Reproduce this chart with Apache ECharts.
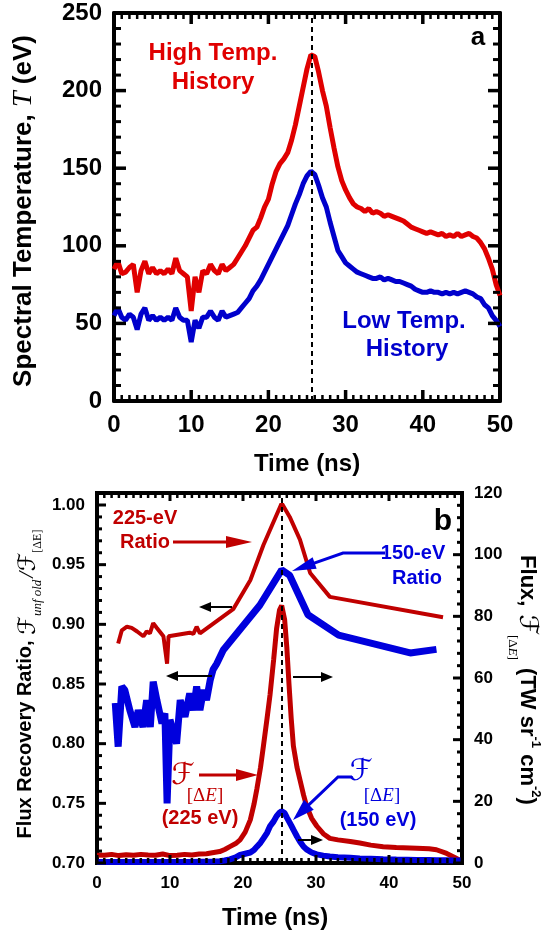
<!DOCTYPE html>
<html>
<head>
<meta charset="utf-8">
<script src="https://cdn.jsdelivr.net/npm/echarts@6/dist/echarts.min.js"></script>
<style>
html,body{margin:0;padding:0;background:#fff}
#chart{width:543px;height:937px}
</style>
</head>
<body>
<div id="chart"></div>
<script>
// ---- panel a : spectral temperature histories ----
var timeA = [0,0.5,1,1.5,2,2.5,3,3.5,4,4.5,
	5,5.5,6,6.5,7,7.5,8,8.5,9,9.5,
	10,10.5,11,11.5,12,12.5,13,13.5,14,14.5,
	15,15.5,16,16.5,17,17.5,18,18.5,19,19.5,
	20,20.5,21,21.5,22,22.5,23,23.5,24,24.5,
	25,25.5,26,26.5,27,27.5,28,28.5,29,29.5,
	30,30.5,31,31.5,32,32.5,33,33.5,34,34.5,
	35,35.5,36,36.5,37,37.5,38,38.5,39,39.5,
	40,40.5,41,41.5,42,42.5,43,43.5,44,44.5,
	45,45.5,46,46.5,47,47.5,48,48.5,49,49.5,
	50];
var highTemp = [85,90,82,83,86,88,70,84,90,82,
	86,82,84,82,85,82,92,84,82,80,
	58,80,70,84,82,88,84,82,88,84,
	86,88,92,96,100,105,110,112,118,125,
	130,140,148,153,156,160,168,178,190,202,
	214,223,222,212,200,190,176,163,151,142,
	136,131,127,125,124,122,124,121,122,121,
	119,120,119,118,117,116,114,112,111,110,
	109,108,109,108,107,108,106,107,106,108,
	106,107,108,106,105,102,98,92,85,75,
	68];
var lowTemp = [55,60,54,52,56,54,46,56,60,52,
	55,52,54,52,54,52,60,54,52,52,
	38,52,47,54,54,58,54,52,58,54,
	55,56,57,60,63,66,71,74,78,83,
	88,93,98,103,108,113,120,127,133,140,
	145,148,146,139,131,125,115,106,97,93,
	89,87,85,83,82,81,80,79,79,80,
	78,79,78,77,77,76,75,74,72,71,
	70,70,71,70,70,69,70,69,70,69,
	70,71,70,69,67,66,62,60,55,52,
	48];
var peakTimeA = 25.6;
var timeRange = [0, 50];
var tempRange = [0, 250];

// ---- panel b : flux recovery ratio and flux ----
var ratio225Time = [2.9,3.4,4.1,4.75,5.5,6.35,6.8,7.25,7.7,8.2,9.1,9.6,9.8,12.7,13.2,13.65,14.1,18.7,21.0,22.8,25.3,26.4,27.8,29.2,31.9,47.4];
var ratio225 = [0.884,0.895,0.898,0.897,0.894,0.890,0.894,0.8925,0.901,0.897,0.890,0.867,0.890,0.893,0.892,0.898,0.8925,0.913,0.937,0.9665,1.0015,0.990,0.971,0.943,0.923,0.906];
var ratio150Time = [2.5,2.9,3.4,3.8,4.5,5.2,5.65,6.3,6.8,7.3,7.7,8.2,8.9,9.3,9.6,10.0,10.9,11.4,12.05,12.7,13.2,13.65,14.1,14.6,15.0,15.5,15.9,16.4,17.3,22.3,25.3,26.4,28.9,33.1,42.9,46.5];
var ratio150 = [0.834,0.7975,0.848,0.845,0.828,0.814,0.828,0.814,0.8365,0.814,0.852,0.8365,0.817,0.8255,0.750,0.820,0.800,0.8365,0.8225,0.842,0.828,0.848,0.828,0.845,0.8365,0.853,0.862,0.867,0.8785,0.916,0.9456,0.941,0.908,0.891,0.876,0.879];
var fluxTime = [0,1,2,3,4,5,6,7,8,9,10,11,12,13,14,15,16,
	16.8,17.5,18.2,19,19.6,20.3,21,21.5,21.9,22.4,
	22.8,23.3,23.7,24.2,24.6,25,25.3,25.7,26,26.3,
	26.6,26.9,27.4,27.8,28.3,28.7,29.4,30.1,31,31.9,
	33,34.7,36,37.5,39.2,41,43.8,45.5,46.5,47.9,
	49,50];
var flux225 = [2.6,2.5,2.8,2.4,2.7,2.5,2.8,2.6,2.5,2.9,2.4,2.5,2.8,2.6,2.9,3.0,3.4,
	3.7,4.4,5.3,6.3,7.5,10,14,19,24,31,
	38,47,54.5,66,76,82,83.5,79,70,58,
	47,38,31,27,22,18.5,14.5,12,9.5,8,
	7.5,7,6.5,5.8,5.3,5.0,4.8,4.6,4.3,3.1,
	1.8,0.5];
var flux150 = [0.3,0.3,0.3,0.3,0.3,0.3,0.3,0.3,0.3,0.3,0.3,0.3,0.3,0.3,0.4,0.4,0.5,
	0.6,0.8,1.2,1.8,2.6,3.0,3.4,4.2,5.3,6.6,
	8,9.8,11.9,13.5,15.2,16.3,16.8,16.2,14.8,13.5,
	12.2,10.8,8.6,7,5.3,4.4,3.4,2.8,2.4,2.1,
	1.9,1.7,1.5,1.4,1.2,1.1,1.0,1.0,0.9,0.9,
	0.8,0.8];
var peakTimeB = 25.3;
var ratioRange = [0.70, 1.00];
var fluxRange = [0, 120];

function renderFigure(){
	var SANS = '"Liberation Sans", Arial, sans-serif';
	var SERIF = '"Liberation Serif", "DejaVu Serif", serif';
	var SCRIPT = '"DejaVu Sans", "DejaVu Serif", serif';
	var RED_A = '#e00000', BLUE_A = '#0000cc';
	var RED_B = '#c00000', BLUE_B = '#0000dd';

	// grid boxes
	var gA = {left:114, top:13, width:386, height:388};
	var gRatio = {left:97, top:505, width:365, height:358};
	var gFlux = {left:97, top:493, width:365, height:370};

	function zip(xs, ys){
		return xs.map(function(x,i){ return [x, ys[i]]; });
	}

	//文字测量
	var measureCtx = document.createElement('canvas').getContext('2d');
	function textW(t, font){ measureCtx.font = font; return measureCtx.measureText(t).width; }

	function label(x, y, s, size, color, font){
		return {
			type:'text', x:x, y:y, z:100,
			style:{text:s, font:font || ('bold '+size+'px '+SANS), fill:color,
				align:'center', verticalAlign:'middle', textAlign:'center', textVerticalAlign:'middle'}
		};
	}

	// pieces laid one after another, centred on (cx,cy), optional rotation
	function pieceRow(cx, cy, rot, pieces){
		var fonts = pieces.map(function(p){
			return (p.i?'italic ':'') + (p.b?'bold ':'') + p.s + 'px ' + (p.f || SANS);
		});
		var widths = pieces.map(function(p,k){ return textW(p.t, fonts[k]) + (p.gap||0); });
		var total = widths.reduce(function(a,b){ return a+b; }, 0);
		var x = -total/2;
		var children = pieces.map(function(p,k){
			var el = {
				type:'text', x: x + (p.gap||0), y: p.dy||0,
				style:{text:p.t, font:fonts[k], fill:p.c || '#000',
					align:'left', verticalAlign:'middle', textAlign:'left', textVerticalAlign:'middle'}
			};
			x += widths[k];
			return el;
		});
		return {type:'group', x:cx, y:cy, rotation:rot||0, z:100, children:children};
	}

	function arrowShape(pts, color, lw, hl, hw){
		var n = pts.length, tip = pts[n-1], prev = pts[n-2];
		var dx = tip[0]-prev[0], dy = tip[1]-prev[1];
		var len = Math.sqrt(dx*dx+dy*dy), ux = dx/len, uy = dy/len;
		var bx = tip[0]-ux*hl, by = tip[1]-uy*hl;
		var shaft = pts.slice(0, n-1).concat([[bx+ux*2, by+uy*2]]);
		return [
			{type:'polyline', z:100, shape:{points:shaft}, style:{stroke:color, lineWidth:lw, fill:null}},
			{type:'polygon', z:100, shape:{points:[tip,[bx-uy*hw, by+ux*hw],[bx+uy*hw, by-ux*hw]]}, style:{fill:color}}
		];
	}

	// inward ticks on the frame as small filled bars, spaced along each axis range
	function frameTicks(box, range, dim, side, minor, per, L, l, w, mw){
		var out = [];
		var steps = Math.round((range[1]-range[0])/minor);
		for (var k = 0; k <= steps; k++){
			var f = k/steps, major = (k % per) === 0;
			var len = major ? L : l, hw = (major ? w : mw)/2, pts;
			if (dim === 'x'){
				var px = box.left + f*box.width;
				var ey = side === 'bottom' ? box.top + box.height : box.top;
				var ty = side === 'bottom' ? ey - len : ey + len;
				pts = [[px-hw, ey], [px+hw, ey], [px+hw, ty], [px-hw, ty]];
			} else {
				var py = box.top + box.height - f*box.height;
				var ex = side === 'left' ? box.left : box.left + box.width;
				var tx = side === 'left' ? ex + len : ex - len;
				pts = [[ex, py-hw], [ex, py+hw], [tx, py+hw], [tx, py-hw]];
			}
			out.push({type:'polygon', z:90, shape:{points:pts}, style:{fill:'#000'}});
		}
		return out;
	}

	function valueAxis(base, labelSize, showLabel, fmt){
		var lab = {show:showLabel, fontFamily:SANS, fontWeight:'bold', fontSize:labelSize, color:'#000', margin:12};
		if (fmt) lab.formatter = fmt;
		return Object.assign({
			type:'value',
			axisLine:{show:true, onZero:false, lineStyle:{color:'#000', width:4}},
			splitLine:{show:false},
			axisTick:{show:false},
			axisLabel:lab
		}, base);
	}

	var graphics = [];
	graphics = graphics
		.concat(frameTicks(gA, timeRange, 'x', 'bottom', 1, 10, 11, 6, 3.5, 2.5))
		.concat(frameTicks(gA, timeRange, 'x', 'top', 1, 10, 11, 6, 3.5, 2.5))
		.concat(frameTicks(gA, tempRange, 'y', 'left', 10, 5, 12, 7, 3.5, 3))
		.concat(frameTicks(gA, tempRange, 'y', 'right', 10, 5, 12, 7, 3.5, 3))
		.concat(frameTicks(gFlux, timeRange, 'x', 'bottom', 1, 10, 8, 5, 3, 2.5))
		.concat(frameTicks(gFlux, timeRange, 'x', 'top', 1, 10, 8, 5, 3, 2.5))
		.concat(frameTicks(gRatio, ratioRange, 'y', 'left', 0.01, 5, 9, 5, 3, 3))
		.concat(frameTicks(gFlux, fluxRange, 'y', 'right', 4, 5, 9, 5, 3, 3));

	// panel a
	graphics.push(label(213, 53, 'High Temp.', 24, RED_A));
	graphics.push(label(213, 82, 'History', 24, RED_A));
	graphics.push(label(404, 321, 'Low Temp.', 24, BLUE_A));
	graphics.push(label(407, 349, 'History', 24, BLUE_A));
	graphics.push(label(478, 38, 'a', 26, '#000'));
	graphics.push(label(307, 464, 'Time (ns)', 24, '#000'));
	graphics.push(pieceRow(24, 211, Math.PI/2, [
		{t:'Spectral Temperature, ', b:1, s:26},
		{t:'T', i:1, s:28, f:SERIF},
		{t:' (eV)', b:1, s:26}
	]));
	// panel b
	graphics.push(label(145, 518, '225-eV', 20, RED_B));
	graphics.push(label(145, 542, 'Ratio', 20, RED_B));
	graphics = graphics.concat(arrowShape([[173,542],[252,542]], RED_B, 3, 26, 6));
	graphics.push(label(413, 553, '150-eV', 20, BLUE_B));
	graphics.push(label(417, 578, 'Ratio', 20, BLUE_B));
	graphics = graphics.concat(arrowShape([[385,553],[343,553],[292,571]], BLUE_B, 3, 24, 6));
	graphics = graphics.concat(arrowShape([[232,607],[199,607]], '#000', 2, 12, 5));
	graphics = graphics.concat(arrowShape([[212,676],[166,676]], '#000', 2, 12, 5));
	graphics = graphics.concat(arrowShape([[293,677],[333,677]], '#000', 2, 12, 5));
	graphics = graphics.concat(arrowShape([[298,840],[323,840]], '#000', 2, 12, 5));
	graphics.push(label(443, 522, 'b', 30, '#000'));

	graphics.push(label(183, 776, 'ℱ', 30, RED_B, 'italic 30px '+SCRIPT));
	graphics.push(pieceRow(205, 796, 0, [
		{t:'[Δ', s:19, f:SERIF, c:RED_B},
		{t:'E', i:1, s:19, f:SERIF, c:RED_B},
		{t:']', s:19, f:SERIF, c:RED_B}
	]));
	graphics.push(label(200, 818, '(225 eV)', 20, RED_B));
	graphics = graphics.concat(arrowShape([[199,775],[258,775]], RED_B, 3, 22, 6));

	graphics.push(label(361, 772, 'ℱ', 30, BLUE_B, 'italic 30px '+SCRIPT));
	graphics.push(pieceRow(382, 796, 0, [
		{t:'[Δ', s:19, f:SERIF, c:BLUE_B},
		{t:'E', i:1, s:19, f:SERIF, c:BLUE_B},
		{t:']', s:19, f:SERIF, c:BLUE_B}
	]));
	graphics.push(label(378, 820, '(150 eV)', 20, BLUE_B));
	graphics = graphics.concat(arrowShape([[352,777],[338,777],[293,820]], BLUE_B, 3, 22, 7));

	graphics.push(label(275, 918, 'Time (ns)', 24, '#000'));
	graphics.push(pieceRow(25, 684, Math.PI/2, [
		{t:'Flux Recovery Ratio, ', b:1, s:20},
		{t:'ℱ', i:1, s:24, f:SCRIPT, dy:4},
		{t:'unf old', i:1, s:13, f:SERIF, dy:13},
		{t:'/', i:1, s:22, f:SERIF, dy:2, gap:2},
		{t:'ℱ', i:1, s:24, f:SCRIPT, dy:4},
		{t:'[ΔE]', s:12, f:SERIF, dy:13}
	]));
	graphics.push(pieceRow(527, 680, -Math.PI/2, [
		{t:'Flux, ', b:1, s:22},
		{t:'ℱ', i:1, s:26, f:SCRIPT, dy:0, gap:2},
		{t:'[Δ', s:13, f:SERIF, dy:15},
		{t:'E', i:1, s:13, f:SERIF, dy:15},
		{t:']', s:13, f:SERIF, dy:15},
		{t:' (TW sr', b:1, s:22, gap:2},
		{t:'-1', b:1, s:13, dy:-9},
		{t:' cm', b:1, s:22},
		{t:'-2', b:1, s:13, dy:-9},
		{t:')', b:1, s:22}
	]));

	function fmt2(v){ return v.toFixed(2); }
	function fmtInt(v){ return String(Math.round(v)); }

	var dashLine = {type:[5,4], color:'#000', width:2};

	var option = {
		animation:false,
		backgroundColor:'#fff',
		grid:[
			Object.assign({show:false}, gA),
			Object.assign({show:false}, gRatio),
			Object.assign({show:true, borderColor:'#000', borderWidth:4, backgroundColor:'transparent'}, gFlux)
		],
		xAxis:[
			valueAxis({gridIndex:0, position:'bottom', min:timeRange[0], max:timeRange[1], interval:10}, 24, true, fmtInt),
			valueAxis({gridIndex:0, position:'top', min:timeRange[0], max:timeRange[1], interval:10}, 24, false),
			valueAxis({gridIndex:1, position:'bottom', min:timeRange[0], max:timeRange[1], interval:10}, 17, true, fmtInt),
			valueAxis({gridIndex:2, position:'top', min:timeRange[0], max:timeRange[1], interval:10}, 17, false)
		],
		yAxis:[
			valueAxis({gridIndex:0, position:'left', min:tempRange[0], max:tempRange[1], interval:50}, 24, true, fmtInt),
			valueAxis({gridIndex:0, position:'right', min:tempRange[0], max:tempRange[1], interval:50}, 24, false),
			valueAxis({gridIndex:1, position:'left', min:ratioRange[0], max:ratioRange[1], interval:0.05}, 17, true, fmt2),
			valueAxis({gridIndex:2, position:'right', min:fluxRange[0], max:fluxRange[1], interval:20}, 17, true, fmtInt)
		],
		graphic:graphics,
		series:[
			{
				name:'High Temp. History', type:'line', xAxisIndex:0, yAxisIndex:0,
				data:zip(timeA, highTemp), symbol:'none',
				lineStyle:{color:RED_A, width:5}, z:3
			},
			{
				name:'Low Temp. History', type:'line', xAxisIndex:0, yAxisIndex:0,
				data:zip(timeA, lowTemp), symbol:'none',
				lineStyle:{color:BLUE_A, width:5}, z:3,
				markLine:{silent:true, symbol:'none', label:{show:false}, lineStyle:dashLine,
					data:[{xAxis:peakTimeA}], z:5}
			},
			{
				name:'225-eV Ratio', type:'line', xAxisIndex:2, yAxisIndex:2,
				data:zip(ratio225Time, ratio225), symbol:'none',
				lineStyle:{color:RED_B, width:4}, z:3
			},
			{
				name:'150-eV Ratio', type:'line', xAxisIndex:2, yAxisIndex:2,
				data:zip(ratio150Time, ratio150), symbol:'none',
				lineStyle:{color:BLUE_B, width:7}, z:3
			},
			{
				name:'Flux 225 eV', type:'line', xAxisIndex:3, yAxisIndex:3,
				data:zip(fluxTime, flux225), symbol:'none',
				lineStyle:{color:RED_B, width:5}, z:3
			},
			{
				name:'Flux 150 eV', type:'line', xAxisIndex:3, yAxisIndex:3,
				data:zip(fluxTime, flux150), symbol:'none',
				lineStyle:{color:BLUE_B, width:6}, z:3,
				markLine:{silent:true, symbol:'none', label:{show:false}, lineStyle:dashLine,
					data:[{xAxis:peakTimeB}], z:5}
			}
		]
	};
	var chart = echarts.init(document.getElementById('chart'));
	try {
		chart.setOption(option);
	} catch (e) {
		console.log(e);
	}
}
renderFigure();
</script>
</body>
</html>
